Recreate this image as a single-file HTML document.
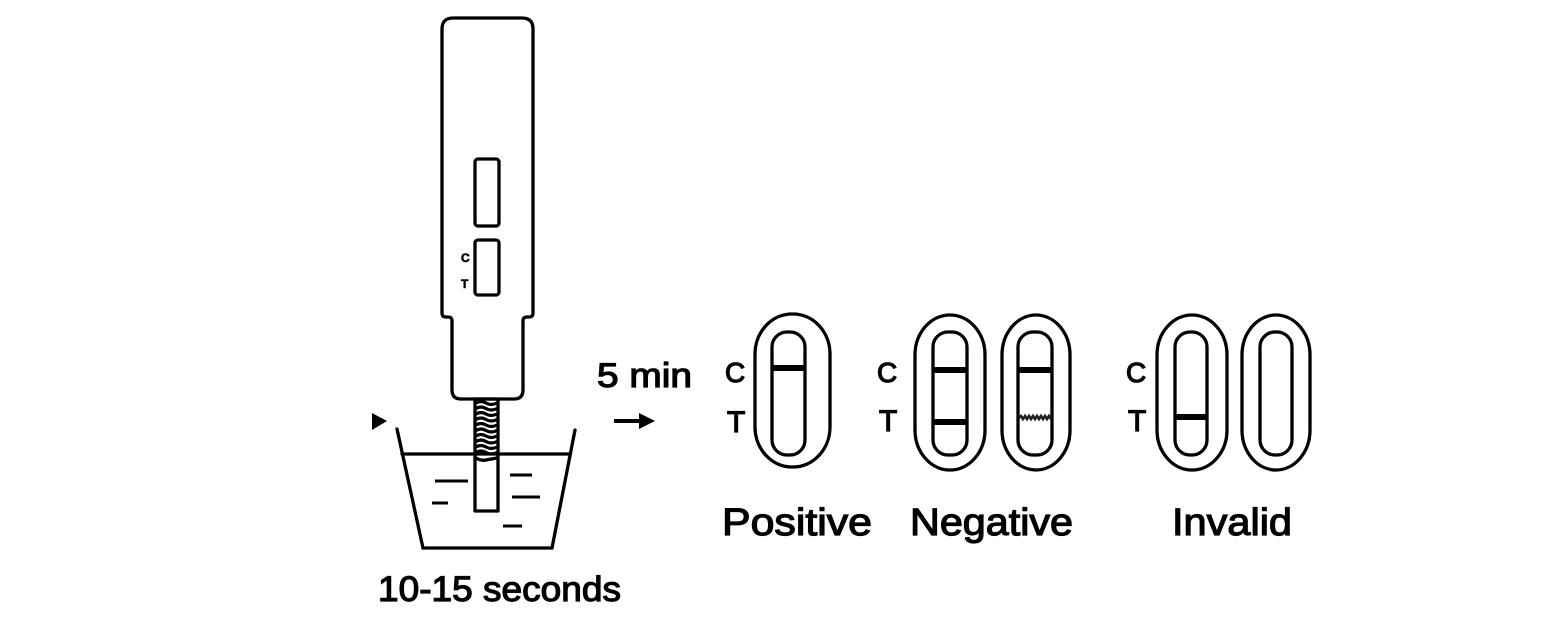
<!DOCTYPE html>
<html>
<head>
<meta charset="utf-8">
<style>
  html, body { margin: 0; padding: 0; background: #ffffff; }
  body { width: 1558px; height: 626px; overflow: hidden; }
  svg { display: block; }
  text { font-family: "Liberation Sans", Arial, sans-serif; fill: #000; }
</style>
</head>
<body>
<svg width="1558" height="626" viewBox="0 0 1558 626" xmlns="http://www.w3.org/2000/svg">
  <rect x="0" y="0" width="1558" height="626" fill="#ffffff"/>

  <!-- Test device -->
  <g fill="none" stroke="#000" stroke-width="3.3" stroke-linejoin="round">
    <path d="M 442,313 L 442,29 Q 442,18 453,18 L 522,18 Q 533,18 533,29 L 533,313 Q 533,317 529,317 L 527,317 Q 523,317 523,321 L 523,390 Q 523,399 514,399 L 461,399 Q 452,399 452,390 L 452,321 Q 452,317 448,317 L 446,317 Q 442,317 442,313 Z"/>
    <rect x="475" y="159" width="24" height="67" rx="3"/>
    <rect x="475" y="240" width="24" height="55" rx="3"/>
    <!-- strip -->
    <rect x="475" y="399" width="23" height="112"/>
  </g>
  <text x="461" y="262" font-size="12" font-weight="bold" stroke="#000" stroke-width="0.6">C</text>
  <text x="461" y="288" font-size="12" font-weight="bold" stroke="#000" stroke-width="0.6">T</text>

  <!-- wavy strip section -->
  <g fill="none" stroke="#000" stroke-width="3.2">
    <path d="M 476,403 q 5,-3 10,0 t 11,0"/>
    <path d="M 476,408.5 q 5,-3 10,0 t 11,0"/>
    <path d="M 476,414 q 5,-3 10,0 t 11,0"/>
    <path d="M 476,419.5 q 5,-3 10,0 t 11,0"/>
    <path d="M 476,425 q 5,-3 10,0 t 11,0"/>
    <path d="M 476,430.5 q 5,-3 10,0 t 11,0"/>
    <path d="M 476,436 q 5,-3 10,0 t 11,0"/>
    <path d="M 476,441.5 q 5,-3 10,0 t 11,0"/>
    <path d="M 476,447 q 5,-3 10,0 t 11,0"/>
    <path d="M 476,452.5 q 5,-3 10,0 t 11,0"/>
    <path d="M 476,458 q 5,3 10,2 t 11,-2"/>
  </g>

  <!-- cup -->
  <g fill="none" stroke="#000" stroke-width="3.3" stroke-linecap="round">
    <line x1="397" y1="429" x2="423" y2="548"/>
    <line x1="575" y1="430" x2="552" y2="548"/>
    <line x1="423" y1="548" x2="552" y2="548"/>
    <line x1="402" y1="454" x2="570" y2="454"/>
  </g>
  <g stroke="#000" stroke-width="3">
    <line x1="435" y1="481" x2="468" y2="481"/>
    <line x1="432" y1="503" x2="448" y2="503"/>
    <line x1="510" y1="475" x2="532" y2="475"/>
    <line x1="512" y1="497" x2="540" y2="497"/>
    <line x1="503" y1="526" x2="522" y2="526"/>
  </g>
  <!-- small pointer -->
  <polygon points="372,413 387,421 372,430" fill="#000"/>

  <text x="378" y="601" font-size="35" textLength="243" lengthAdjust="spacingAndGlyphs" stroke="#000" stroke-width="1.2">10-15 seconds</text>

  <!-- 5 min arrow -->
  <text x="597" y="387" font-size="34" textLength="95" lengthAdjust="spacingAndGlyphs" stroke="#000" stroke-width="1.2">5 min</text>
  <line x1="614" y1="421" x2="642" y2="421" stroke="#000" stroke-width="4"/>
  <polygon points="639,413 655,421 639,429" fill="#000"/>

  <!-- C / T labels -->
  <g stroke="#000" stroke-width="1.2">
    <text x="725" y="382" font-size="28">C</text>
    <text x="727" y="432" font-size="30">T</text>
    <text x="877" y="382" font-size="28">C</text>
    <text x="879" y="431" font-size="30">T</text>
    <text x="1126" y="382" font-size="28">C</text>
    <text x="1128" y="431" font-size="30">T</text>
  </g>

  <!-- cassettes -->
  <g fill="none" stroke="#000" stroke-width="3.3">
    <!-- positive -->
    <rect x="755" y="314" width="75" height="153" rx="37" ry="40"/>
    <rect x="772" y="332" width="33" height="123" rx="15" ry="15"/>
    <!-- negative 1 -->
    <rect x="915" y="315" width="70" height="155" rx="35" ry="40"/>
    <rect x="933" y="332" width="34" height="123" rx="15" ry="15"/>
    <!-- negative 2 -->
    <rect x="1002" y="315" width="68" height="155" rx="34" ry="40"/>
    <rect x="1018" y="332" width="34" height="123" rx="15" ry="15"/>
    <!-- invalid 1 -->
    <rect x="1157" y="315" width="70" height="155" rx="35" ry="40"/>
    <rect x="1175" y="332" width="32" height="123" rx="15" ry="15"/>
    <!-- invalid 2 -->
    <rect x="1242" y="315" width="68" height="155" rx="34" ry="40"/>
    <rect x="1260" y="332" width="32" height="123" rx="15" ry="15"/>
  </g>

  <!-- bands -->
  <g stroke="#000" stroke-width="6">
    <line x1="772" y1="368" x2="805" y2="368"/>
    <line x1="933" y1="370" x2="967" y2="370"/>
    <line x1="933" y1="422" x2="967" y2="422"/>
    <line x1="1018" y1="370" x2="1052" y2="370"/>
    <line x1="1175" y1="417" x2="1207" y2="417"/>
  </g>
  <path d="M 1019,418 l 2,-2 l 2,3 l 2,-3 l 2,3 l 2,-3 l 2,3 l 2,-3 l 2,3 l 2,-3 l 2,3 l 2,-3 l 2,3 l 2,-3 l 2,3 l 2,-3 l 2,3" fill="none" stroke="#222" stroke-width="2.6"/>

  <!-- result labels -->
  <g stroke="#000" stroke-width="1.2">
    <text x="722" y="535" font-size="38" textLength="150" lengthAdjust="spacingAndGlyphs">Positive</text>
    <text x="910" y="535" font-size="38" textLength="163" lengthAdjust="spacingAndGlyphs">Negative</text>
    <text x="1172" y="535" font-size="38" textLength="120" lengthAdjust="spacingAndGlyphs">Invalid</text>
  </g>
</svg>
</body>
</html>
